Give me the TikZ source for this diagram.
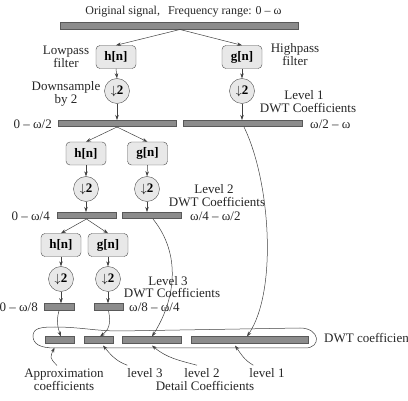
\documentclass[tikz,border=0pt]{standalone}
\usepackage{fontspec}
\setmainfont{Liberation Serif}
\usetikzlibrary{arrows.meta}
\begin{document}
\begin{tikzpicture}[x=1pt,y=1pt,
  font=\fontsize{13}{13}\selectfont,
  txt/.style={inner sep=0pt, text=black!85},
  bar/.style={rectangle, draw=black!65, fill=black!45, line width=0.5pt,
    minimum height=6.5pt, inner sep=0pt},
  filt/.style={rectangle, draw=black!70, fill=black!9, rounded corners=4pt,
    minimum width=40pt, minimum height=23pt, inner sep=0pt,
    font=\fontsize{13}{13}\selectfont\bfseries},
  down/.style={circle, draw=black!70, fill=black!9, minimum size=25pt, inner sep=0pt},
  link/.style={draw=black!75, line width=0.5pt, -{Stealth[length=5pt,width=3.5pt]}},
]
\useasboundingbox (0,0) rectangle (408,-401);

% title and input signal
\node[txt, font=\fontsize{12}{12}\selectfont] (title) at (183.5,-12)
  {Original signal,\hspace{8pt}Frequency range: 0 – ω};
\node[bar, minimum width=238pt] (top) at (179,-26) {};

% level 1
\node[filt] (h1) at (116,-57) {h[n]};
\node[filt] (g1) at (242,-57) {g[n]};
\node[down] (d1h) at (117,-91) {$\downarrow$\textbf{2}};
\node[down] (d1g) at (242,-91) {$\downarrow$\textbf{2}};
\node[bar, minimum width=118pt] (b1l) at (117,-123.5) {};
\node[bar, minimum width=119pt] (b1r) at (242.5,-123.5) {};

\node[txt, align=center] (lp) at (66,-57) {Lowpass\\filter};
\node[txt, align=center] (hp) at (295,-55) {Highpass\\filter};
\node[txt, align=center] (ds) at (66,-94) {Downsample\\by 2};
\node[txt] (lev1) at (304,-95) {Level 1};
\node[txt] (dwt1) at (308,-108) {DWT Coefficients};
\node[txt, anchor=east] (f1l) at (52,-124) {0 – ω/2};
\node[txt, anchor=west] (f1r) at (310,-124) {ω/2 – ω};

% level 2
\node[filt] (h2) at (86,-153.5) {h[n]};
\node[filt] (g2) at (147.5,-153.5) {g[n]};
\node[down] (d2h) at (86,-189) {$\downarrow$\textbf{2}};
\node[down] (d2g) at (147,-189) {$\downarrow$\textbf{2}};
\node[bar, minimum width=59pt] (b2l) at (86.5,-215.5) {};
\node[bar, minimum width=59pt] (b2r) at (151.5,-215.5) {};

\node[txt] (lev2) at (214,-189) {Level 2};
\node[txt] (dwt2) at (217,-202) {DWT Coefficients};
\node[txt, anchor=east] (f2l) at (50,-216) {0 – ω/4};
\node[txt, anchor=west] (f2r) at (190,-216) {ω/4 – ω/2};

% level 3
\node[filt] (h3) at (61,-245) {h[n]};
\node[filt] (g3) at (108,-245) {g[n]};
\node[down] (d3h) at (61,-279) {$\downarrow$\textbf{2}};
\node[down] (d3g) at (108,-279) {$\downarrow$\textbf{2}};
\node[bar, minimum width=30pt, minimum height=7pt] (b3l) at (59,-307) {};
\node[bar, minimum width=29pt, minimum height=7pt] (b3r) at (108.5,-307) {};

\node[txt] (lev3) at (168,-281) {Level 3};
\node[txt] (dwt3) at (172,-293) {DWT Coefficients};
\node[txt, anchor=east] (f3l) at (38,-307) {0 – ω/8};
\node[txt, anchor=west] (f3r) at (129,-307) {ω/8 – ω/4};

% collected coefficients
\node[bar, minimum width=29pt] (ca) at (59.5,-340) {};
\node[bar, minimum width=29pt] (cb) at (98.5,-340) {};
\node[bar, minimum width=59pt] (cc) at (151.5,-340) {};
\node[bar, minimum width=117pt] (cd) at (249.5,-340) {};
\draw[black!75, line width=0.5pt]
  (33,-336) .. controls (33,-328) and (41,-327) .. (55,-327)
  .. controls (80,-327) and (95,-331) .. (120,-331)
  -- (300,-328)
  .. controls (320,-328) and (322,-348) .. (305,-348)
  -- (55,-348)
  .. controls (40,-348) and (33,-344) .. (33,-336) -- cycle;
\node[txt, anchor=west] (dwtall) at (324,-338) {DWT coefficients};

\node[txt, align=center] (app) at (64,-379.5) {Approximation\\coefficients};
\node[txt] (l3) at (145,-373) {level 3};
\node[txt] (l2) at (202,-373) {level 2};
\node[txt] (l1) at (267,-373) {level 1};
\node[txt] (det) at (205,-386) {Detail Coefficients};

% filter tree
\draw[link] ([xshift=1pt]top.south) -- (h1.north);
\draw[link] ([xshift=1pt]top.south) -- (g1.north);
\draw[link] (h1.south) -- (d1h.north);
\draw[link] (g1.south) -- (d1g.north);
\draw[link] (d1h.south) -- (d1h.south |- b1l.north);
\draw[link] (d1g.south) -- (d1g.south |- b1r.north);

\draw[link] (b1l.south) -- (h2.north);
\draw[link] (b1l.south) -- (g2.north);
\draw[link] (h2.south) -- (d2h.north);
\draw[link] (g2.south) -- (d2g.north);
\draw[link] (d2h.south) -- (d2h.south |- b2l.north);
\draw[link] (d2g.south) -- (d2g.south |- b2r.north);

\draw[link] (b2l.south) -- (h3.north);
\draw[link] (b2l.south) -- (g3.north);
\draw[link] (h3.south) -- (d3h.north);
\draw[link] (g3.south) -- (d3g.north);
\draw[link] (d3h.south) -- (d3h.south |- b3l.north);
\draw[link] (d3g.south) -- (d3g.south |- b3r.north);

% outputs gathered into one vector
\draw[link] (b3l.south) .. controls +(-3,-10) and +(-3,8) .. ([xshift=1.5pt]ca.north);
\draw[link] (b3r.south) .. controls +(3,-14) and +(8,6) .. ([xshift=1.5pt]cb.north);
\draw[link] ([xshift=1.5pt]b2r.south) .. controls +(29,-36) and +(23,36) .. ([xshift=0.5pt]cc.north);
\draw[link] ([xshift=1.5pt]b1r.south) .. controls +(26,-53) and +(31,46) .. ([xshift=-2.5pt]cd.north);

% labels pointing at the vector
\draw[link] ([xshift=-7pt,yshift=3pt]app.north) to[out=135,in=-115,looseness=1.5] ([xshift=-5pt,yshift=-4pt]ca.south);
\draw[link] ([yshift=3pt]l3.north west) to[out=160,in=-50] ([xshift=4.5pt,yshift=-2pt]cb.south);
\draw[link] ([xshift=-5pt,yshift=3pt]l2.north) to[out=165,in=-40] ([xshift=0.5pt,yshift=-2pt]cc.south);
\draw[link] ([xshift=4pt,yshift=3pt]l1.north west) to[out=150,in=-55] ([xshift=-14.5pt,yshift=-2pt]cd.south);
\end{tikzpicture}
\end{document}
